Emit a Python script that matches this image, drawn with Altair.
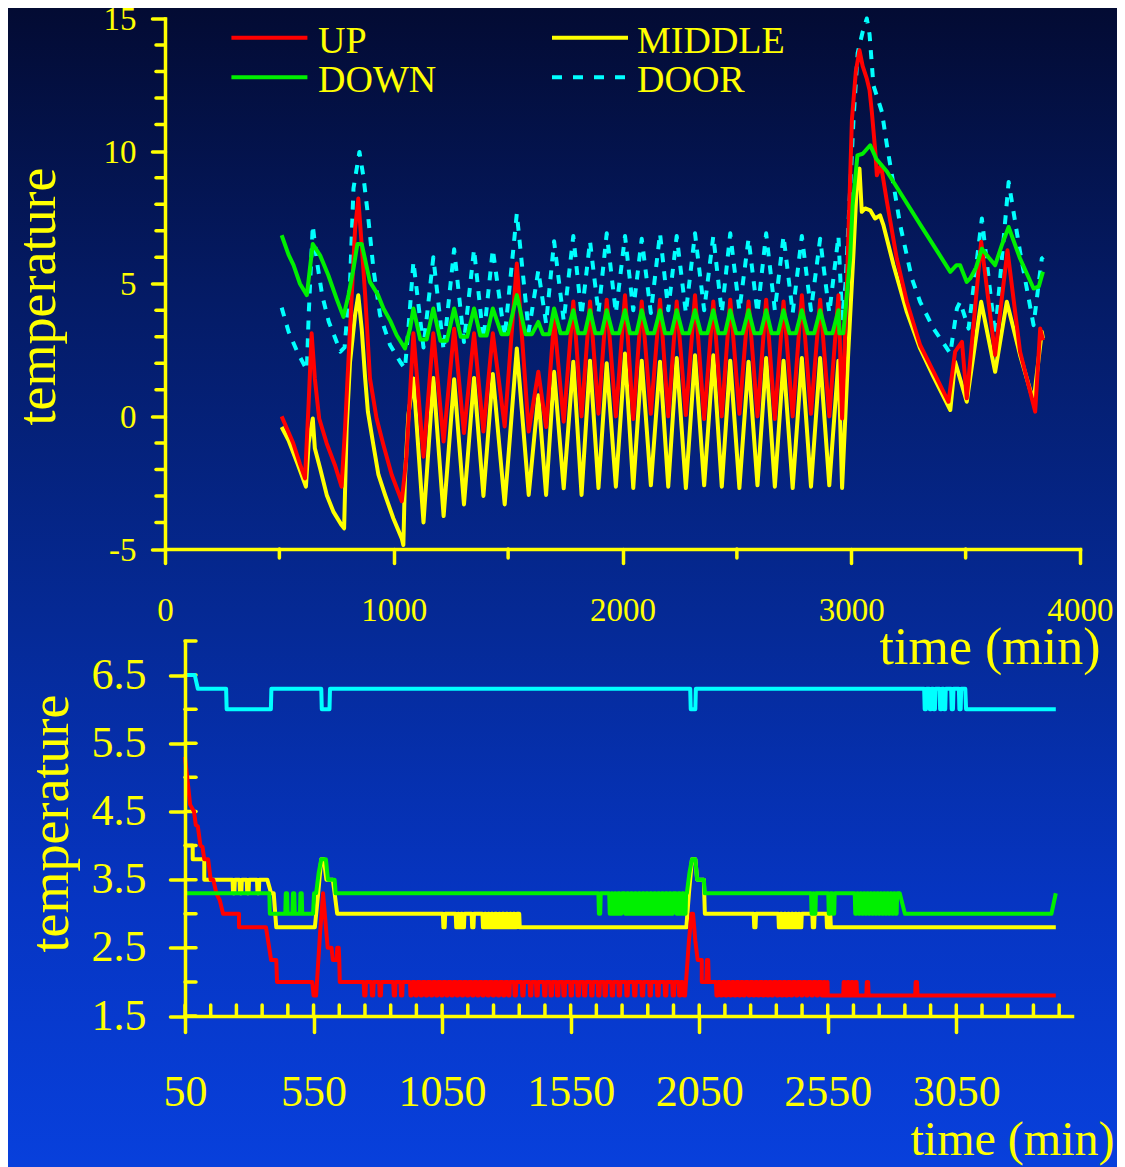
import altair as alt
import pandas as pd

# ---------------------------------------------------------------- colours / fonts
YEL = "#ffff00"
RED = "#ff0000"
GRN = "#00f000"
CYN = "#00ffff"
FONT = "Liberation Serif"

# ---------------------------------------------------------------- tick labels
top_x_ticks = [0, 1000, 2000, 3000, 4000]
top_x_minor = [500, 1500, 2500, 3500]
top_y_ticks = [-5, 0, 5, 10, 15]
top_y_minor = [-4, -3, -2, -1, 1, 2, 3, 4, 6, 7, 8, 9, 11, 12, 13, 14]
bot_x_ticks = [50, 550, 1050, 1550, 2050, 2550, 3050]
bot_x_minor = [50, 150, 250, 350, 450, 550, 650, 750, 850, 950, 1050, 1150, 1250, 1350,
               1450, 1550, 1650, 1750, 1850, 1950, 2050, 2150, 2250, 2350, 2450, 2550,
               2650, 2750, 2850, 2950, 3050, 3150, 3250, 3350, 3450]
bot_y_ticks = [1.5, 2.5, 3.5, 4.5, 5.5, 6.5]
bot_y_minor = [1.5, 2.0, 2.5, 3.0, 3.5, 4.0, 4.5, 5.0, 5.5, 6.0, 6.5, 7.0]

SERIES = ["UP", "MIDDLE", "DOWN", "DOOR"]

# ---------------------------------------------------------------- top panel data
# cycle peak / trough times of the periodic section (min)
osc_peak_t = [1086, 1173, 1264, 1351, 1433, 1538, 1632, 1701, 1785, 1858, 1931, 2011,
              2084, 2164, 2237, 2317, 2397, 2471, 2551, 2628, 2704, 2784, 2864, 2944]
osc_trough_t = [1130, 1218, 1307, 1392, 1485, 1590, 1666, 1743, 1821, 1895, 1971, 2047,
                2124, 2200, 2277, 2357, 2434, 2511, 2590, 2666, 2744, 2824, 2904, 2960]

# UP
up_early_t = [510, 530, 560, 590, 612, 628, 641, 655, 674, 707, 743, 772, 787, 809, 831,
              845, 860, 875, 896, 925, 955, 991, 1035, 1055]
up_early_v = [0.0, -0.4, -1.0, -1.8, -2.34, 0.5, 3.13, 1.43, -0.08, -1.02, -1.84, -2.65,
              -0.45, 3.3, 7.08, 8.21, 6.45, 4.57, 1.43, -0.08, -1.08, -2.2, -3.2, -1.58]
up_peak_v = [3.13, 3.13, 3.3, 3.13, 3.13, 5.76, 1.68, 3.63, 4.33, 4.33, 4.4, 4.57,
             4.33, 4.4, 4.33, 4.57, 4.33, 4.4, 4.33, 4.4, 4.33, 4.57, 4.4, 4.57]
up_trough_v = [-1.52, -0.95, -0.63, -0.57, -0.38, -0.57, -0.4, -0.2, 0.0, 0.1, 0.0, -0.1,
               0.1, 0.0, 0.05, -0.1, 0.0, 0.1, 0.0, -0.1, 0.0, 0.1, 0.0, -0.08]
up_late_t = [2981, 3003, 3020, 3036, 3050, 3068, 3080, 3090, 3105, 3112, 3130, 3156, 3199,
             3243, 3301, 3360, 3425, 3454, 3484, 3505, 3568, 3629, 3683, 3738, 3804, 3826, 3838]
up_late_v = [4.95, 11.2, 13.0, 13.8, 13.2, 12.73, 12.3, 11.48, 10.0, 9.09, 9.47, 8.09, 5.95,
             4.32, 2.69, 1.68, 0.55, 2.44, 2.81, 0.68, 6.58, 2.31, 6.26, 2.44, 0.18, 3.31, 2.87]

# MIDDLE
mid_early_t = [510, 540, 580, 616, 628, 646, 655, 678, 707, 736, 772, 783, 794, 809, 831,
               845, 860, 875, 887, 911, 933, 962, 998, 1035, 1042, 1049, 1064]
mid_early_v = [-0.4, -0.9, -1.8, -2.65, -1.0, -0.08, -1.2, -1.96, -2.96, -3.59, -4.1, -4.22,
               -0.45, 2.06, 3.82, 4.57, 3.3, 1.43, 0.18, -1.08, -2.2, -2.96, -3.84, -4.6,
               -4.85, -2.3, 0.05]
mid_peak_v = [1.43, 1.45, 1.4, 1.45, 1.6, 2.56, 0.8, 1.68, 2.06, 2.1, 2.0, 2.37,
              2.1, 2.06, 2.2, 2.3, 2.3, 2.1, 2.06, 2.2, 2.1, 2.2, 2.2, 2.1]
mid_trough_v = [-4.0, -3.76, -3.32, -3.0, -3.32, -2.96, -2.96, -2.71, -2.96, -2.7, -2.65, -2.7,
                -2.6, -2.65, -2.7, -2.6, -2.65, -2.7, -2.6, -2.65, -2.7, -2.65, -2.6, -2.7]
mid_late_t = [2987, 3010, 3024, 3036, 3046, 3061, 3083, 3104, 3126, 3141, 3185, 3243, 3301,
              3360, 3433, 3454, 3505, 3568, 3629, 3680, 3738, 3797, 3833, 3838]
mid_late_v = [2.44, 6.2, 8.72, 9.34, 7.71, 7.84, 7.77, 7.46, 7.58, 7.2, 5.7, 3.94, 2.56,
              1.49, 0.24, 2.06, 0.55, 4.32, 1.68, 4.32, 2.31, 0.55, 3.19, 2.94]

# DOWN
down_early_t = [510, 540, 562, 590, 620, 646, 678, 714, 750, 780, 802, 824, 841, 860, 896,
                930, 955, 985, 1013, 1049, 1071]
down_early_v = [6.83, 6.1, 5.7, 5.0, 4.57, 6.5, 6.07, 5.32, 4.44, 3.75, 4.57, 5.57, 6.5, 6.5,
                5.07, 4.6, 4.07, 3.6, 3.06, 2.56, 3.3]
down_peak_v = [4.07, 4.07, 4.07, 4.07, 4.07, 4.57, 3.56, 4.07, 4.0, 4.0, 4.0, 4.0,
               4.0, 4.0, 4.0, 4.0, 4.0, 4.0, 4.0, 4.0, 4.0, 4.0, 4.0, 4.0]
down_flat_start_t = [1116, 1204, 1293, 1378, 1471, 1576, 1652, 1729, 1807, 1881, 1957, 2033,
                     2110, 2186, 2263, 2343, 2420, 2497, 2576, 2652, 2730, 2810, 2890, 2948]
down_flat_end_t = [1144, 1232, 1321, 1406, 1499, 1604, 1680, 1757, 1835, 1909, 1985, 2061,
                   2138, 2214, 2291, 2371, 2448, 2525, 2604, 2680, 2758, 2838, 2918, 2965]
down_flat_v = [2.9, 2.85, 3.0, 3.05, 3.1, 3.1, 3.1, 3.13, 3.13, 3.13, 3.13, 3.13,
               3.13, 3.13, 3.13, 3.13, 3.13, 3.13, 3.13, 3.13, 3.13, 3.13, 3.13, 3.13]
down_late_t = [2975, 2995, 3006, 3027, 3050, 3083, 3110, 3156, 3228, 3301, 3375, 3433, 3460,
               3476, 3505, 3520, 3545, 3571, 3600, 3629, 3660, 3688, 3738, 3797, 3820, 3838]
down_late_v = [4.0, 5.95, 7.96, 9.84, 9.9, 10.22, 9.7, 9.23, 8.24, 7.24, 6.24, 5.45, 5.7,
               5.7, 5.07, 5.2, 5.6, 6.32, 6.0, 5.7, 6.5, 7.14, 5.95, 4.82, 4.9, 5.45]

# DOOR
door_early_t = [510, 540, 580, 620, 628, 646, 665, 687, 716, 767, 785, 809, 824, 850, 868,
                889, 911, 940, 984, 1028, 1049, 1064]
door_early_v = [4.1, 3.2, 2.4, 1.75, 3.8, 7.2, 5.8, 4.57, 3.57, 2.44, 2.6, 5.08, 8.6, 9.97,
                9.0, 7.45, 5.57, 3.82, 2.69, 2.06, 1.8, 3.3]
door_peak_v = [5.83, 6.0, 6.3, 6.3, 6.3, 7.65, 5.5, 6.6, 6.8, 6.6, 6.9, 6.8,
               6.7, 6.9, 6.8, 6.9, 6.8, 6.9, 6.7, 6.9, 6.8, 6.8, 6.7, 6.8]
door_trough_v = [2.6, 2.5, 2.8, 2.9, 3.0, 3.2, 3.5, 3.6, 3.8, 3.9, 3.9, 4.0,
                 3.9, 4.0, 3.9, 4.0, 3.9, 4.0, 3.9, 4.0, 3.9, 4.0, 3.9, 3.7]
door_late_t = [2975, 2989, 3010, 3028, 3050, 3068, 3080, 3097, 3134, 3156, 3178, 3214, 3265,
               3301, 3360, 3433, 3462, 3476, 3513, 3571, 3629, 3688, 3738, 3797, 3833, 3840]
door_late_v = [5.0, 7.46, 11.2, 13.7, 14.5, 15.0, 14.4, 12.48, 11.48, 10.22, 9.09, 7.21, 5.2,
               4.32, 3.31, 2.37, 4.07, 4.32, 3.31, 7.46, 3.06, 8.84, 6.2, 3.44, 5.95, 6.0]

# ---------------------------------------------------------------- bottom panel data
# UP
b_up_a = [(50, 5.3), (70, 4.6), (85, 4.5), (92, 4.3), (100, 4.28), (110, 4.0), (118, 3.98),
          (125, 3.8), (140, 3.8), (150, 3.5), (160, 3.5), (172, 3.3), (185, 3.2), (198, 3.0),
          (260, 3.0), (260, 2.8), (365, 2.8), (385, 2.32), (405, 2.32), (408, 2.0), (545, 2.0),
          (550, 1.8), (560, 1.8), (575, 2.7), (587, 3.3), (596, 2.9), (605, 2.5), (620, 2.5),
          (625, 2.32), (640, 2.32), (642, 2.5), (648, 2.5), (650, 2.32), (652, 2.0), (720, 2.0)]
b_up_dips_a = [745, 775, 805, 860, 888, 925, 945, 965, 985, 1005, 1025, 1045, 1065, 1085,
               1105, 1125, 1145, 1165, 1185, 1205, 1225, 1245, 1265, 1285, 1305, 1330, 1360,
               1390, 1415, 1445, 1470, 1495, 1520, 1548, 1575, 1600, 1628, 1655, 1680, 1708,
               1735, 1765, 1795, 1825, 1855, 1885, 1915, 1945, 1970]
b_up_b = [(1985, 2.0), (1990, 1.8), (1995, 1.8), (2010, 2.6), (2020, 3.0), (2026, 3.0),
          (2035, 2.6), (2044, 2.32), (2060, 2.32), (2060, 2.0), (2078, 2.0), (2080, 2.32),
          (2085, 2.32), (2087, 2.0), (2110, 2.0)]
b_up_dips_b = [2115, 2132, 2150, 2168, 2185, 2203, 2220, 2240, 2258, 2276, 2295, 2313, 2330,
               2350, 2368, 2386, 2405, 2425, 2445, 2465, 2485, 2505, 2525, 2540]
b_up_c = [(2550, 1.8)]
b_up_bumps_c = [2610, 2625, 2640, 2655, 2700, 2890]
b_up_d = [(3437, 1.8)]

# MIDDLE
b_mid_a = [(50, 4.0), (80, 4.0), (80, 3.8), (125, 3.8), (125, 3.5), (225, 3.5)]
b_mid_dips_a = [235, 262, 290, 330]
b_mid_b = [(370, 3.5), (385, 3.3), (395, 3.3), (405, 2.8), (555, 2.8), (568, 3.3), (580, 3.8),
           (590, 3.8), (600, 3.5), (625, 3.5), (632, 3.3), (642, 3.0), (1045, 3.0)]
b_mid_dips_b = [1053, 1103, 1115, 1128, 1165, 1207, 1220, 1233, 1246, 1262, 1275, 1290,
                1305, 1318, 1332]
b_mid_c = [(1350, 3.0), (1352, 2.8), (2000, 2.8), (2010, 3.3), (2022, 3.8), (2035, 3.8),
           (2042, 3.5), (2068, 3.5), (2072, 3.0), (2255, 3.0)]
b_mid_dips_c = [2262, 2358, 2372, 2386, 2400, 2414, 2428, 2440, 2490, 2545]
b_mid_d = [(2560, 3.0), (2562, 2.8), (3437, 2.8)]

# DOWN
b_down_a = [(50, 3.3), (378, 3.3), (380, 3.0)]
b_down_bumps_a = [440, 468, 497]
b_down_b = [(548, 3.0), (552, 3.3), (560, 3.3), (570, 3.6), (580, 3.8), (598, 3.8), (606, 3.5),
            (632, 3.5), (636, 3.3), (1650, 3.3)]
b_down_dips_b = [1658, 1700, 1712, 1725, 1740, 1760, 1775, 1790, 1805, 1820, 1835, 1850,
                 1865, 1880, 1895, 1910, 1925, 1940, 1960, 1975, 1990]
b_down_c = [(2002, 3.3), (2012, 3.6), (2022, 3.8), (2035, 3.8), (2042, 3.5), (2068, 3.5),
            (2072, 3.3), (2480, 3.3)]
b_down_dips_c = [2485, 2495, 2552, 2568, 2655, 2668, 2681, 2694, 2707, 2720, 2733, 2746,
                 2759, 2772, 2785, 2798, 2811]
b_down_d = [(2830, 3.3), (2850, 3.0), (3420, 3.0), (3437, 3.3)]

# DOOR
b_door_a = [(50, 6.5), (88, 6.5), (100, 6.3), (210, 6.3), (212, 6.0), (384, 6.0), (386, 6.3),
            (580, 6.3), (582, 6.0), (612, 6.0), (614, 6.3), (2015, 6.3), (2017, 6.0),
            (2035, 6.0), (2037, 6.3), (2918, 6.3)]
b_door_dips_a = [2925, 2945, 2960, 2985, 3000, 3030, 3060]
b_door_b = [(3085, 6.3), (3088, 6.0), (3437, 6.0)]


# ---------------------------------------------------------------- helpers
def interleave(a, b):
    out = []
    for x, y in zip(a, b):
        out += [x, y]
    return out


def dips(times, base, other):
    pts = []
    for t in times:
        pts += [(t, base), (t + 2, other), (t + 7, other), (t + 9, base)]
    return pts


def frame_tv(t, v):
    return pd.DataFrame({"t": t, "v": v, "i": list(range(len(t)))})


def frame_pts(pts):
    return pd.DataFrame({"t": [p[0] for p in pts], "v": [p[1] for p in pts],
                         "i": list(range(len(pts)))})


# top series
up_t = up_early_t + interleave(osc_peak_t, osc_trough_t) + up_late_t
up_v = up_early_v + interleave(up_peak_v, up_trough_v) + up_late_v
mid_t = mid_early_t + interleave(osc_peak_t, osc_trough_t) + mid_late_t
mid_v = mid_early_v + interleave(mid_peak_v, mid_trough_v) + mid_late_v
door_t = door_early_t + interleave(osc_peak_t, osc_trough_t) + door_late_t
door_v = door_early_v + interleave(door_peak_v, door_trough_v) + door_late_v
down_t, down_v = list(down_early_t), list(down_early_v)
for p, pv, s, e, fv in zip(osc_peak_t, down_peak_v, down_flat_start_t, down_flat_end_t, down_flat_v):
    down_t += [p, s, e]
    down_v += [pv, fv, fv]
down_t += down_late_t
down_v += down_late_v

# bottom series
b_up = b_up_a + dips(b_up_dips_a, 2.0, 1.8) + b_up_b + dips(b_up_dips_b, 2.0, 1.8) + b_up_c \
    + dips(b_up_bumps_c, 1.8, 2.0) + b_up_d
b_mid = b_mid_a + dips(b_mid_dips_a, 3.5, 3.3) + b_mid_b + dips(b_mid_dips_b, 3.0, 2.8) \
    + b_mid_c + dips(b_mid_dips_c, 3.0, 2.8) + b_mid_d
b_down = b_down_a + dips(b_down_bumps_a, 3.0, 3.3) + b_down_b + dips(b_down_dips_b, 3.3, 3.0) \
    + b_down_c + dips(b_down_dips_c, 3.3, 3.0) + b_down_d
b_door = b_door_a + dips(b_door_dips_a, 6.3, 6.0) + b_door_b

# ---------------------------------------------------------------- geometry
TOP_W, TOP_H = 915, 530.5
VIEW_W, VIEW_H = 915, 997.5
LINE_W = 4
PAD = {"left": 157, "top": 10.5, "right": 37, "bottom": 151}


def axis(**kw):
    base = dict(domainColor=YEL, domainWidth=3.5, domainCap="square", tickColor=YEL,
                tickWidth=3.5, tickCap="round", labelColor=YEL, labelFont=FONT,
                titleColor=YEL, titleFont=FONT, titleFontWeight="normal", grid=False,
                labelOverlap=False, labelFlush=False, zindex=1,
                labelExpr="'' + datum.value")
    base.update(kw)
    return alt.Axis(**base)


AX_TOP_X = axis(orient="bottom", offset=TOP_H - VIEW_H, values=top_x_ticks, tickSize=14,
                labelPadding=31, labelFontSize=33, title="time (min)", titleFontSize=52,
                titleX=935, titleY=114, titleAlign="right", titleBaseline="alphabetic",
                titleAngle=0)
AX_TOP_Y = axis(orient="left", offset=0, values=top_y_ticks, tickSize=13, labelPadding=16,
                labelFontSize=33, labelOffset=1, title="temperature", titleFontSize=54,
                titleX=-111, titleY=277.5, titleAngle=270, titleAlign="center",
                titleBaseline="alphabetic")
AX_BOT_X = axis(orient="bottom", offset=0, values=bot_x_ticks, tickSize=16, labelPadding=38,
                labelFontSize=44, title="time (min)", titleFontSize=48, titleX=745,
                titleY=138, titleAlign="left", titleBaseline="alphabetic", titleAngle=0)
AX_BOT_Y = axis(orient="left", offset=-20, values=bot_y_ticks, tickSize=15, labelPadding=24,
                labelFontSize=44, title="temperature", titleFontSize=54, titleX=-118,
                titleY=804.5, titleAngle=270, titleAlign="center", titleBaseline="alphabetic")

SX_TOP = alt.Scale(domain=[0, 4000], range=[0, TOP_W], nice=False, zero=False)
SY_TOP = alt.Scale(domain=[-5, 15], range=[TOP_H, 0], nice=False, zero=False)
SX_BOT = alt.Scale(domain=[50, 3500], range=[20, 907], nice=False, zero=False)
SY_BOT = alt.Scale(domain=[1.5, 7.0], range=[VIEW_H, 622.5], nice=False, zero=False)


def xt(): return alt.X("t:Q", scale=SX_TOP, axis=AX_TOP_X)
def yt(): return alt.Y("v:Q", scale=SY_TOP, axis=AX_TOP_Y)
def xb(): return alt.X("t:Q", scale=SX_BOT, axis=AX_BOT_X)
def yb(): return alt.Y("v:Q", scale=SY_BOT, axis=AX_BOT_Y)


def series(df, color, x, y, dash=None):
    kw = dict(color=color, strokeWidth=LINE_W, strokeJoin="round", strokeCap="butt")
    if dash:
        kw["strokeDash"] = dash
    return alt.Chart(df).mark_line(**kw).encode(x=x, y=y, order=alt.Order("i:Q"))


tick_kw = dict(color=YEL, strokeWidth=3.5, strokeCap="round")

# ---------------------------------------------------------------- top panel
top_minor_y = alt.Chart(pd.DataFrame({"v": top_y_minor})).mark_rule(**tick_kw).encode(
    y=yt(), x=alt.value(-9), x2=alt.value(0))
top_minor_x = alt.Chart(pd.DataFrame({"t": top_x_minor})).mark_rule(**tick_kw).encode(
    x=xt(), y=alt.value(TOP_H), y2=alt.value(TOP_H + 9))

legend_layers = []
legend_spec = [("UP", RED, 66.4, 19.2, None, 153, 34.5),
               ("MIDDLE", YEL, 387, 19.2, None, 472, 34.2),
               ("DOWN", GRN, 66.4, 58.8, None, 153, 73.5),
               ("DOOR", CYN, 387, 58.8, [10, 11], 472, 73.2)]
for name, col, lx, ly, dash, tx, ty in legend_spec:
    rkw = dict(color=col, strokeWidth=4)
    if dash:
        rkw["strokeDash"] = dash
    d = pd.DataFrame({"name": [name]})
    legend_layers.append(alt.Chart(d).mark_rule(**rkw).encode(
        x=alt.value(lx), x2=alt.value(lx + 76), y=alt.value(ly)))
    legend_layers.append(alt.Chart(d).mark_text(
        align="left", baseline="alphabetic", font=FONT, fontSize=38, color=YEL).encode(
        text="name:N", x=alt.value(tx), y=alt.value(ty)))

top = alt.layer(
    top_minor_y, top_minor_x,
    series(frame_tv(door_t, door_v), CYN, xt(), yt(), dash=[9, 9]),
    series(frame_tv(mid_t, mid_v), YEL, xt(), yt()),
    series(frame_tv(up_t, up_v), RED, xt(), yt()),
    series(frame_tv(down_t, down_v), GRN, xt(), yt()),
    *legend_layers,
)

# ---------------------------------------------------------------- bottom panel
bot_in_x = alt.Chart(pd.DataFrame({"t": bot_x_minor})).mark_rule(**tick_kw).encode(
    x=xb(), y=alt.value(VIEW_H - 11), y2=alt.value(VIEW_H))
bot_in_y = alt.Chart(pd.DataFrame({"v": bot_y_minor})).mark_rule(**tick_kw).encode(
    y=yb(), x=alt.value(20), x2=alt.value(31))

bottom = alt.layer(
    bot_in_x, bot_in_y,
    series(frame_pts(b_door), CYN, xb(), yb()),
    series(frame_pts(b_mid), YEL, xb(), yb()),
    series(frame_pts(b_up), RED, xb(), yb()),
    series(frame_pts(b_down), GRN, xb(), yb()),
)

# ---------------------------------------------------------------- background
grad = alt.LinearGradient(
    gradient="linear", x1=0, y1=0, x2=0, y2=1,
    stops=[alt.GradientStop(color="#030b33", offset=0),
           alt.GradientStop(color="#041b66", offset=0.252),
           alt.GradientStop(color="#052a97", offset=0.537),
           alt.GradientStop(color="#0635c2", offset=0.77),
           alt.GradientStop(color="#0840dc", offset=1)])
bg = alt.Chart(pd.DataFrame({"a": [0]})).mark_rect(fill=grad).encode(
    x=alt.value(-PAD["left"]), x2=alt.value(VIEW_W + PAD["right"]),
    y=alt.value(-PAD["top"]), y2=alt.value(VIEW_H + PAD["bottom"]))

chart = alt.layer(bg, top, bottom).resolve_scale(
    x="independent", y="independent").properties(
    width=VIEW_W, height=VIEW_H,
    autosize=alt.AutoSizeParams(type="none"),
    padding=PAD,
    background="#0840dc").configure_view(strokeWidth=0)

chart.save("out.html", embed_options={"renderer": "svg", "actions": False})
